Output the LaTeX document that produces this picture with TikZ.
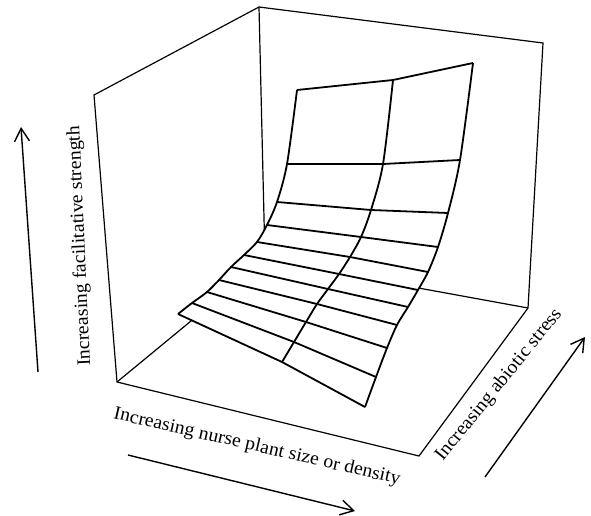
\documentclass[tikz,border=0pt]{standalone}
\usepackage{fontspec}
\setmainfont{Liberation Serif}[FakeStretch=1.04]
\usetikzlibrary{arrows.meta}
\begin{document}
\begin{tikzpicture}[x=1pt,y=-1pt,
  boxline/.style={line width=1.2pt, line join=miter},
  gridline/.style={line width=1.8pt, line join=round},
  surf/.style={fill=white},
  axisarrow/.style={line width=1.4pt, -{Straight Barb[length=13pt,width=15pt,line width=1.4pt]}},
  axislabel/.style={font=\fontsize{19}{22}\selectfont, inner sep=0pt}]
\useasboundingbox (0,0) rectangle (591,516);
% box corners
\coordinate (O) at (117,382);
\coordinate (Ot) at (94,95);
\coordinate (Bl) at (265,260);
\coordinate (Blt) at (259,7);
\coordinate (Br) at (528,308);
\coordinate (Brt) at (543,43);
\coordinate (F) at (419,456);
\draw[boxline] (O) -- (Ot) -- (Blt) -- (Brt) -- (Br) -- (F) -- cycle;
\draw[boxline] (Blt) -- (Bl);
\draw[boxline] (O) -- (Bl) -- (Br);
% surface grid points
\coordinate (L0) at (297,90);  \coordinate (M0) at (393,80);  \coordinate (R0) at (473,63);
\coordinate (L1) at (287,164); \coordinate (M1) at (383,164); \coordinate (R1) at (460,160);
\coordinate (L2) at (277,202); \coordinate (M2) at (371,210); \coordinate (R2) at (448,213);
\coordinate (L3) at (267,225); \coordinate (M3) at (361,237); \coordinate (R3) at (438,247);
\coordinate (L4) at (257,242); \coordinate (M4) at (350,257); \coordinate (R4) at (428,272);
\coordinate (L5) at (244,255); \coordinate (M5) at (339,274); \coordinate (R5) at (418,290);
\coordinate (L6) at (231,267); \coordinate (M6) at (328,289); \coordinate (R6) at (408,307);
\coordinate (L7) at (219,280); \coordinate (M7) at (317,304); \coordinate (R7) at (397,325);
\coordinate (L8) at (207,292); \coordinate (M8) at (306,322); \coordinate (R8) at (387,348);
\coordinate (L9) at (192,303); \coordinate (M9) at (294,342); \coordinate (R9) at (376,377);
\coordinate (L10) at (178,314); \coordinate (M10) at (282,362); \coordinate (R10) at (365,407);
% opaque surface
\path[surf] plot[smooth] coordinates {(L0) (L1) (L2) (L3) (L4) (L5) (L6) (L7) (L8) (L9) (L10)}
  -- (M10) -- plot[smooth] coordinates {(R10) (R9) (R8) (R7) (R6) (R5) (R4) (R3) (R2) (R1) (R0)}
  -- (M0) -- cycle;
\draw[gridline] plot[smooth] coordinates {(L0) (L1) (L2) (L3) (L4) (L5) (L6) (L7) (L8) (L9) (L10)};
\draw[gridline] plot[smooth] coordinates {(M0) (M1) (M2) (M3) (M4) (M5) (M6) (M7) (M8) (M9) (M10)};
\draw[gridline] plot[smooth] coordinates {(R0) (R1) (R2) (R3) (R4) (R5) (R6) (R7) (R8) (R9) (R10)};
\foreach \i in {0,...,10} { \draw[gridline] (L\i) -- (M\i) -- (R\i); }
% axis labels
\node[axislabel, rotate=92.6] (lz) at (80,246) {Increasing facilitative strength};
\node[axislabel, rotate=-13] (lx) at (257,447) {Increasing nurse plant size or density};
\node[axislabel, rotate=51] (ly) at (499,385) {Increasing abiotic stress};
% axis arrows
\coordinate (za) at (38,372); \coordinate (zb) at (21,127);
\coordinate (xa) at (128,455); \coordinate (xb) at (355,511);
\coordinate (ya) at (485,477); \coordinate (yb) at (585,337);
\draw[axisarrow] (za) -- (zb);
\draw[axisarrow] (xa) -- (xb);
\draw[axisarrow] (ya) -- (yb);
\end{tikzpicture}
\end{document}
